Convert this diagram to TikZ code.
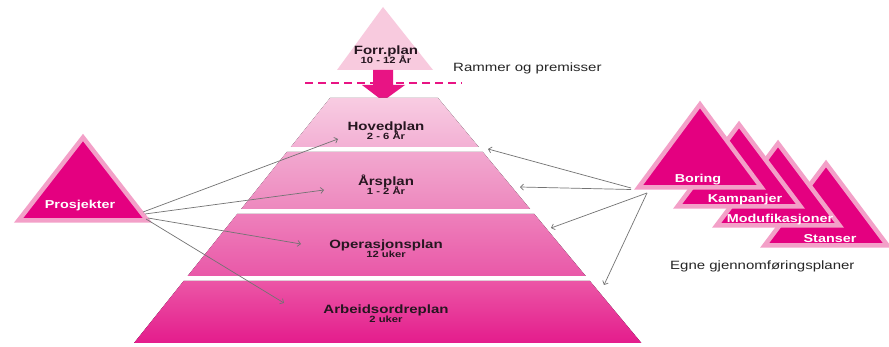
\documentclass[tikz,border=0pt]{standalone}
\usepackage{fontspec}
\usepackage{graphicx}
\setmainfont{Liberation Sans}
\usetikzlibrary{arrows.meta}

\definecolor{magfill}{RGB}{228,0,128}
\definecolor{rimpink}{RGB}{243,160,200}
\definecolor{palepink}{RGB}{248,202,222}
\definecolor{arrowmag}{RGB}{232,20,132}
\definecolor{inkdark}{RGB}{38,22,32}
\definecolor{linkgray}{RGB}{115,115,115}
\definecolor{lvlAtop}{RGB}{248,204,226}
\definecolor{lvlAbot}{RGB}{243,176,212}
\definecolor{lvlBtop}{RGB}{242,168,207}
\definecolor{lvlBbot}{RGB}{237,136,190}
\definecolor{lvlCtop}{RGB}{238,128,187}
\definecolor{lvlCbot}{RGB}{233,88,168}
\definecolor{lvlDtop}{RGB}{235,86,166}
\definecolor{lvlDbot}{RGB}{228,28,140}

% slightly widened lettering
\newcommand\wideText[1]{\scalebox{1.25}[1]{#1}}

\tikzset{
  lvltitle/.style={anchor=base, inner sep=0pt, text=inkdark,
    font=\fontsize{12}{14}\selectfont\bfseries},
  lvlsub/.style={anchor=base, inner sep=0pt, text=inkdark,
    font=\fontsize{9}{10}\selectfont\bfseries},
  trilabel/.style={anchor=base, inner sep=0pt, text=white,
    font=\fontsize{11.5}{13}\selectfont\bfseries},
  caption/.style={anchor=base west, inner sep=0pt, text=black!85,
    font=\fontsize{12}{14}\selectfont},
  planbox/.style={draw=rimpink, line width=4.5pt, line join=miter, fill=magfill},
  link/.style={draw=linkgray, line width=0.7pt,
    -{Straight Barb[length=3pt,width=6pt]}},
}

\begin{document}
\begin{tikzpicture}[x=1pt,y=-1pt]
\useasboundingbox (0,0) rectangle (889,347);
\fill[white] (0,0) rectangle (889,347);

% ---- long-term plan at the top
\fill[palepink] (383,7) -- (433,70) -- (337,70) -- cycle;
\node[lvltitle] (forr) at (386,55) {\wideText{Forr.plan}};
\node[lvlsub] (forrsub) at (386,63.5) {\wideText{10 - 12 År}};

\draw[arrowmag, line width=2pt, dash pattern=on 8pt off 5pt] (305,83) -- (462,83);
\fill[arrowmag] (373,70) -- (393,70) -- (393,85) -- (405,85) -- (383,101)
  -- (362,85) -- (373,85) -- cycle;
\node[caption] (rammer) at (453,71.5) {\wideText{Rammer og premisser}};

% ---- planning pyramid
\fill[top color=lvlAtop, bottom color=lvlAbot]
  (330,98) -- (438,98) -- (478.7,147) -- (290.8,147) -- cycle;
\fill[top color=lvlBtop, bottom color=lvlBbot]
  (286.8,152) -- (482.8,152) -- (530.1,209) -- (241.2,209) -- cycle;
\fill[top color=lvlCtop, bottom color=lvlCbot]
  (237.2,214) -- (534.3,214) -- (585.7,276) -- (187.6,276) -- cycle;
\fill[top color=lvlDtop, bottom color=lvlDbot]
  (183.6,281) -- (589.9,281) -- (641.4,343) -- (134,343) -- cycle;

\node[lvltitle] (hoved) at (386,131) {\wideText{Hovedplan}};
\node[lvlsub] (hovedsub) at (386,140) {\wideText{2 - 6 År}};
\node[lvltitle] (aars) at (386,186) {\wideText{Årsplan}};
\node[lvlsub] (aarssub) at (386,194.5) {\wideText{1 - 2 År}};
\node[lvltitle] (oper) at (386,249) {\wideText{Operasjonsplan}};
\node[lvlsub] (opersub) at (386,258) {\wideText{12 uker}};
\node[lvltitle] (arbeid) at (386,314) {\wideText{Arbeidsordreplan}};
\node[lvlsub] (arbeidsub) at (386,323) {\wideText{2 uker}};

% ---- projects
\path[planbox] (83,137.5) -- (147.5,220.5) -- (18.5,220.5) -- cycle;
\node[trilabel] (prosj) at (80,209) {\wideText{Prosjekter}};

% ---- own execution plans (back to front)
\path[planbox] (826,163.5) -- (887.5,245.5) -- (764.5,245.5) -- cycle;
\path[planbox] (778,143.5) -- (839.5,225.5) -- (716.5,225.5) -- cycle;
\path[planbox] (739,124.5) -- (800.5,206.5) -- (677.5,206.5) -- cycle;
\path[planbox] (700,104.5) -- (761.5,187.5) -- (638.5,187.5) -- cycle;
\node[trilabel] (stanser) at (830,243) {\wideText{Stanser}};
\node[trilabel] (modu) at (780,223) {\wideText{Modufikasjoner}};
\node[trilabel] (kamp) at (745,202.5) {\wideText{Kampanjer}};
\node[trilabel] (boring) at (698,183) {\wideText{Boring}};
\node[caption] (egne) at (670,270) {\wideText{Egne gjennomføringsplaner}};

% ---- connector end points
\coordinate (prosjA) at (143,212);
\coordinate (prosjB) at (145,214);
\coordinate (prosjC) at (148,218);
\coordinate (prosjD) at (146,219);
\coordinate (egneA) at (631,188);
\coordinate (egneB) at (631,189.5);
\coordinate (egneC) at (647,193);
\coordinate (hovedL) at (338,139);
\coordinate (aarsL) at (324,190);
\coordinate (operL) at (301,244);
\coordinate (arbeidL) at (284,303);
\coordinate (hovedR) at (488,149);
\coordinate (aarsR) at (520,187);
\coordinate (operR) at (551,228);
\coordinate (arbeidR) at (604,285);

\draw[link] (prosjA) -- (hovedL);
\draw[link] (prosjB) -- (aarsL);
\draw[link] (prosjC) -- (operL);
\draw[link] (prosjD) -- (arbeidL);
\draw[link] (egneA) -- (hovedR);
\draw[link] (egneB) -- (aarsR);
\draw[link] (egneC) -- (operR);
\draw[link] (egneC) -- (arbeidR);
\end{tikzpicture}
\end{document}
